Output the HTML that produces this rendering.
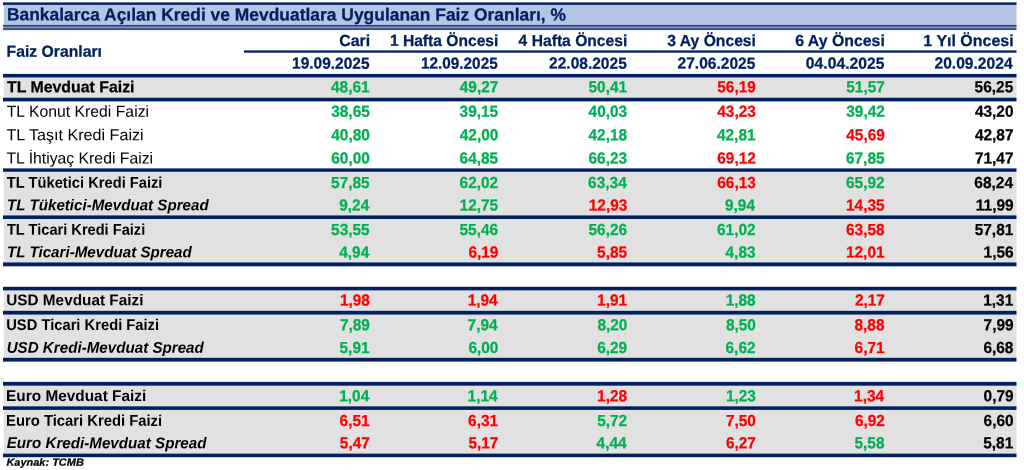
<!DOCTYPE html>
<html lang="tr"><head><meta charset="utf-8"><title>Bankalarca Açılan Kredi ve Mevduatlara Uygulanan Faiz Oranları</title>
<style>
html,body{margin:0;padding:0;background:#fff;}
body{width:1024px;height:470px;position:relative;overflow:hidden;text-rendering:geometricPrecision;font-family:"Liberation Sans",sans-serif;}
svg{position:absolute;left:0;top:0;}
.t{position:absolute;white-space:nowrap;line-height:20px;height:20px;font-size:16px;}
.l{transform-origin:0 50%;}
.r{transform-origin:100% 50%;text-align:right;}
.b{font-weight:bold;}
.k{-webkit-text-stroke:0.25px;}
.i{font-style:italic;font-weight:bold;}

</style></head><body>
<svg width="1024" height="470" viewBox="0 0 1024 470">
<rect x="3.8" y="4.90" width="1012.7" height="20.00" fill="#b4c6e7"/>
<rect x="3.8" y="26.75" width="1012.7" height="1.20" fill="#8296c6"/>
<rect x="3.8" y="77.50" width="1012.7" height="20.20" fill="#e1e1e1"/>
<rect x="3.8" y="171.80" width="1012.7" height="43.60" fill="#e1e1e1"/>
<rect x="3.8" y="219.00" width="1012.7" height="43.40" fill="#e1e1e1"/>
<rect x="3.8" y="290.40" width="1012.7" height="20.40" fill="#e1e1e1"/>
<rect x="3.8" y="314.60" width="1012.7" height="43.20" fill="#e1e1e1"/>
<rect x="3.8" y="385.70" width="1012.7" height="20.60" fill="#e1e1e1"/>
<rect x="3.8" y="409.90" width="1012.7" height="43.70" fill="#e1e1e1"/>
<rect x="3.0" y="2.40" width="1013.5" height="2.50" fill="#002060"/>
<rect x="3.0" y="24.90" width="1013.5" height="1.85" fill="#2a4281"/>
<rect x="3.0" y="27.95" width="1013.5" height="2.15" fill="#3f568d"/>
<rect x="243.9" y="50.40" width="772.6" height="2.30" fill="#002060"/>
<rect x="3.0" y="73.90" width="1013.5" height="3.60" fill="#002060"/>
<rect x="3.0" y="97.70" width="1013.5" height="3.70" fill="#002060"/>
<rect x="3.0" y="168.40" width="1013.5" height="3.40" fill="#002060"/>
<rect x="3.0" y="215.40" width="1013.5" height="3.60" fill="#002060"/>
<rect x="3.0" y="262.40" width="1013.5" height="3.90" fill="#002060"/>
<rect x="3.0" y="286.80" width="1013.5" height="3.60" fill="#002060"/>
<rect x="3.0" y="310.80" width="1013.5" height="3.80" fill="#002060"/>
<rect x="3.0" y="357.80" width="1013.5" height="3.80" fill="#002060"/>
<rect x="3.0" y="381.90" width="1013.5" height="3.80" fill="#002060"/>
<rect x="3.0" y="406.30" width="1013.5" height="3.60" fill="#002060"/>
<rect x="3.0" y="453.60" width="1013.5" height="3.60" fill="#002060"/>
</svg>
<div class="t l b k" style="top:4px;left:6px;transform:matrix(0.9956,0.0005,0,1,0.92,0.35);font-size:17.5px;color:#002060;">Bankalarca Açılan Kredi ve Mevduatlara Uygulanan Faiz Oranları, %</div>
<div class="t l b k" style="top:42px;left:6px;transform:matrix(0.9845,0.0005,0,1,0.58,0.65);color:#002060;">Faiz Oranları</div>
<div class="t r b k" style="top:31px;right:654px;transform:matrix(0.9913,0.0005,0,1,-0.03,0.93);color:#002060;">Cari</div>
<div class="t r b k" style="top:31px;right:525px;transform:matrix(0.9756,0.0005,0,1,-0.82,0.93);color:#002060;">1 Hafta Öncesi</div>
<div class="t r b k" style="top:31px;right:396px;transform:matrix(0.9780,0.0005,0,1,-0.83,0.93);color:#002060;">4 Hafta Öncesi</div>
<div class="t r b k" style="top:31px;right:268px;transform:matrix(0.9802,0.0005,0,1,-0.48,0.93);color:#002060;">3 Ay Öncesi</div>
<div class="t r b k" style="top:31px;right:139px;transform:matrix(0.9913,0.0005,0,1,-0.59,0.93);color:#002060;">6 Ay Öncesi</div>
<div class="t r b k" style="top:31px;right:10px;transform:matrix(0.9977,0.0005,0,1,-0.84,0.93);color:#002060;">1 Yıl Öncesi</div>
<div class="t r b k" style="top:54px;right:654px;transform:matrix(0.9680,0.0005,0,1,-0.50,0.65);color:#002060;">19.09.2025</div>
<div class="t r b k" style="top:54px;right:526px;transform:matrix(0.9583,0.0005,0,1,-0.38,0.65);color:#002060;">12.09.2025</div>
<div class="t r b k" style="top:54px;right:397px;transform:matrix(0.9701,0.0005,0,1,-0.31,0.65);color:#002060;">22.08.2025</div>
<div class="t r b k" style="top:54px;right:268px;transform:matrix(0.9713,0.0005,0,1,-0.73,0.65);color:#002060;">27.06.2025</div>
<div class="t r b k" style="top:54px;right:139px;transform:matrix(0.9807,0.0005,0,1,-0.68,0.65);color:#002060;">04.04.2025</div>
<div class="t r b k" style="top:54px;right:11px;transform:matrix(0.9757,0.0005,0,1,-0.50,0.65);color:#002060;">20.09.2024</div>
<div class="t l b k" style="top:78px;left:6px;transform:matrix(0.9921,0.0005,0,1,0.94,0.25);">TL Mevduat Faizi</div>
<div class="t r b k" style="top:78px;right:654px;transform:matrix(0.9650,0.0005,0,1,-0.42,0.25);color:#00b050;">48,61</div>
<div class="t r b k" style="top:78px;right:525px;transform:matrix(0.9650,0.0005,0,1,-0.70,0.25);color:#00b050;">49,27</div>
<div class="t r b k" style="top:78px;right:396px;transform:matrix(0.9650,0.0005,0,1,-0.88,0.25);color:#00b050;">50,41</div>
<div class="t r b k" style="top:78px;right:268px;transform:matrix(0.9650,0.0005,0,1,-0.20,0.25);color:#ff0000;">56,19</div>
<div class="t r b k" style="top:78px;right:139px;transform:matrix(0.9650,0.0005,0,1,-0.20,0.25);color:#00b050;">51,57</div>
<div class="t r b k" style="top:78px;right:10px;transform:matrix(0.9650,0.0005,0,1,-0.81,0.25);">56,25</div>
<div class="t l" style="top:102px;left:6px;transform:matrix(0.9862,0.0005,0,1,0.67,0.75);">TL Konut Kredi Faizi</div>
<div class="t r b k" style="top:102px;right:654px;transform:matrix(0.9650,0.0005,0,1,-0.22,0.75);color:#00b050;">38,65</div>
<div class="t r b k" style="top:102px;right:525px;transform:matrix(0.9650,0.0005,0,1,-0.83,0.75);color:#00b050;">39,15</div>
<div class="t r b k" style="top:102px;right:396px;transform:matrix(0.9650,0.0005,0,1,-0.86,0.75);color:#00b050;">40,03</div>
<div class="t r b k" style="top:102px;right:268px;transform:matrix(0.9650,0.0005,0,1,-0.20,0.75);color:#ff0000;">43,23</div>
<div class="t r b k" style="top:102px;right:139px;transform:matrix(0.9650,0.0005,0,1,-0.20,0.75);color:#00b050;">39,42</div>
<div class="t r b k" style="top:102px;right:10px;transform:matrix(0.9650,0.0005,0,1,-0.50,0.75);">43,20</div>
<div class="t l" style="top:126px;left:6px;transform:matrix(1.0080,0.0005,0,1,0.48,0.25);">TL Taşıt Kredi Faizi</div>
<div class="t r b k" style="top:126px;right:654px;transform:matrix(0.9650,0.0005,0,1,-0.14,0.25);color:#00b050;">40,80</div>
<div class="t r b k" style="top:126px;right:525px;transform:matrix(0.9650,0.0005,0,1,-0.70,0.25);color:#00b050;">42,00</div>
<div class="t r b k" style="top:126px;right:396px;transform:matrix(0.9650,0.0005,0,1,-0.94,0.25);color:#00b050;">42,18</div>
<div class="t r b k" style="top:126px;right:268px;transform:matrix(0.9650,0.0005,0,1,-0.49,0.25);color:#00b050;">42,81</div>
<div class="t r b k" style="top:126px;right:139px;transform:matrix(0.9650,0.0005,0,1,-0.20,0.25);color:#ff0000;">45,69</div>
<div class="t r b k" style="top:126px;right:10px;transform:matrix(0.9650,0.0005,0,1,-0.50,0.25);">42,87</div>
<div class="t l" style="top:149px;left:6px;transform:matrix(0.9850,0.0005,0,1,0.49,0.55);">TL İhtiyaç Kredi Faizi</div>
<div class="t r b k" style="top:149px;right:654px;transform:matrix(0.9650,0.0005,0,1,-0.13,0.55);color:#00b050;">60,00</div>
<div class="t r b k" style="top:149px;right:525px;transform:matrix(0.9650,0.0005,0,1,-0.85,0.55);color:#00b050;">64,85</div>
<div class="t r b k" style="top:149px;right:396px;transform:matrix(0.9650,0.0005,0,1,-0.87,0.55);color:#00b050;">66,23</div>
<div class="t r b k" style="top:149px;right:268px;transform:matrix(0.9650,0.0005,0,1,-0.20,0.55);color:#ff0000;">69,12</div>
<div class="t r b k" style="top:149px;right:139px;transform:matrix(0.9650,0.0005,0,1,-0.46,0.55);color:#00b050;">67,85</div>
<div class="t r b k" style="top:149px;right:10px;transform:matrix(0.9650,0.0005,0,1,-0.50,0.55);">71,47</div>
<div class="t l b" style="top:173px;left:6px;transform:matrix(0.9478,0.0005,0,1,0.81,0.70);font-size:15.5px;">TL Tüketici Kredi Faizi</div>
<div class="t r b k" style="top:173px;right:654px;transform:matrix(0.9650,0.0005,0,1,-0.34,0.95);color:#00b050;">57,85</div>
<div class="t r b k" style="top:173px;right:525px;transform:matrix(0.9650,0.0005,0,1,-0.86,0.95);color:#00b050;">62,02</div>
<div class="t r b k" style="top:173px;right:397px;transform:matrix(0.9650,0.0005,0,1,-0.28,0.95);color:#00b050;">63,34</div>
<div class="t r b k" style="top:173px;right:268px;transform:matrix(0.9650,0.0005,0,1,-0.20,0.95);color:#ff0000;">66,13</div>
<div class="t r b k" style="top:173px;right:139px;transform:matrix(0.9650,0.0005,0,1,-0.39,0.95);color:#00b050;">65,92</div>
<div class="t r b k" style="top:173px;right:11px;transform:matrix(0.9650,0.0005,0,1,-0.04,0.95);">68,24</div>
<div class="t l i" style="top:196px;left:7px;transform:matrix(0.9765,0.0005,0,1,0.08,0.20);font-size:15.5px;">TL Tüketici-Mevduat Spread</div>
<div class="t r b k" style="top:196px;right:654px;transform:matrix(0.9650,0.0005,0,1,-0.86,0.45);color:#00b050;">9,24</div>
<div class="t r b k" style="top:196px;right:525px;transform:matrix(0.9650,0.0005,0,1,-0.85,0.45);color:#00b050;">12,75</div>
<div class="t r b k" style="top:196px;right:396px;transform:matrix(0.9650,0.0005,0,1,-0.70,0.45);color:#ff0000;">12,93</div>
<div class="t r b k" style="top:196px;right:269px;transform:matrix(0.9650,0.0005,0,1,-0.11,0.45);color:#00b050;">9,94</div>
<div class="t r b k" style="top:196px;right:139px;transform:matrix(0.9650,0.0005,0,1,-0.44,0.45);color:#ff0000;">14,35</div>
<div class="t r b k" style="top:196px;right:10px;transform:matrix(0.9650,0.0005,0,1,-0.50,0.45);">11,99</div>
<div class="t l b" style="top:220px;left:6px;transform:matrix(0.9424,0.0005,0,1,0.93,0.70);font-size:15.5px;">TL Ticari Kredi Faizi</div>
<div class="t r b k" style="top:220px;right:654px;transform:matrix(0.9650,0.0005,0,1,-0.34,0.95);color:#00b050;">53,55</div>
<div class="t r b k" style="top:220px;right:525px;transform:matrix(0.9650,0.0005,0,1,-0.88,0.95);color:#00b050;">55,46</div>
<div class="t r b k" style="top:220px;right:396px;transform:matrix(0.9650,0.0005,0,1,-0.88,0.95);color:#00b050;">56,26</div>
<div class="t r b k" style="top:220px;right:268px;transform:matrix(0.9650,0.0005,0,1,-0.39,0.95);color:#00b050;">61,02</div>
<div class="t r b k" style="top:220px;right:139px;transform:matrix(0.9650,0.0005,0,1,-0.41,0.95);color:#ff0000;">63,58</div>
<div class="t r b k" style="top:220px;right:10px;transform:matrix(0.9650,0.0005,0,1,-0.71,0.95);">57,81</div>
<div class="t l i" style="top:243px;left:7px;transform:matrix(0.9782,0.0005,0,1,0.01,0.20);font-size:15.5px;">TL Ticari-Mevduat Spread</div>
<div class="t r b k" style="top:243px;right:654px;transform:matrix(0.9650,0.0005,0,1,-0.86,0.45);color:#00b050;">4,94</div>
<div class="t r b k" style="top:243px;right:525px;transform:matrix(0.9650,0.0005,0,1,-0.70,0.45);color:#ff0000;">6,19</div>
<div class="t r b k" style="top:243px;right:396px;transform:matrix(0.9650,0.0005,0,1,-0.98,0.45);color:#ff0000;">5,85</div>
<div class="t r b k" style="top:243px;right:268px;transform:matrix(0.9650,0.0005,0,1,-0.56,0.45);color:#00b050;">4,83</div>
<div class="t r b k" style="top:243px;right:139px;transform:matrix(0.9650,0.0005,0,1,-0.47,0.45);color:#ff0000;">12,01</div>
<div class="t r b k" style="top:243px;right:10px;transform:matrix(0.9650,0.0005,0,1,-0.50,0.45);">1,56</div>
<div class="t l b" style="top:291px;left:6px;transform:matrix(0.9897,0.0005,0,1,0.17,0.30);font-size:15.5px;">USD Mevduat Faizi</div>
<div class="t r b k" style="top:291px;right:654px;transform:matrix(0.9650,0.0005,0,1,-0.21,0.55);color:#ff0000;">1,98</div>
<div class="t r b k" style="top:291px;right:526px;transform:matrix(0.9650,0.0005,0,1,-0.45,0.55);color:#ff0000;">1,94</div>
<div class="t r b k" style="top:291px;right:397px;transform:matrix(0.9650,0.0005,0,1,-0.05,0.55);color:#ff0000;">1,91</div>
<div class="t r b k" style="top:291px;right:268px;transform:matrix(0.9650,0.0005,0,1,-0.44,0.55);color:#00b050;">1,88</div>
<div class="t r b k" style="top:291px;right:139px;transform:matrix(0.9650,0.0005,0,1,-0.20,0.55);color:#ff0000;">2,17</div>
<div class="t r b k" style="top:291px;right:10px;transform:matrix(0.9650,0.0005,0,1,-0.86,0.55);">1,31</div>
<div class="t l b" style="top:315px;left:6px;transform:matrix(0.9506,0.0005,0,1,0.22,0.90);font-size:15.5px;">USD Ticari Kredi Faizi</div>
<div class="t r b k" style="top:316px;right:654px;transform:matrix(0.9650,0.0005,0,1,-0.18,0.15);color:#00b050;">7,89</div>
<div class="t r b k" style="top:316px;right:526px;transform:matrix(0.9650,0.0005,0,1,-0.50,0.15);color:#00b050;">7,94</div>
<div class="t r b k" style="top:316px;right:396px;transform:matrix(0.9650,0.0005,0,1,-0.70,0.15);color:#00b050;">8,20</div>
<div class="t r b k" style="top:316px;right:268px;transform:matrix(0.9650,0.0005,0,1,-0.20,0.15);color:#00b050;">8,50</div>
<div class="t r b k" style="top:316px;right:139px;transform:matrix(0.9650,0.0005,0,1,-0.61,0.15);color:#ff0000;">8,88</div>
<div class="t r b k" style="top:316px;right:10px;transform:matrix(0.9650,0.0005,0,1,-0.50,0.15);">7,99</div>
<div class="t l i" style="top:338px;left:6px;transform:matrix(0.9784,0.0005,0,1,0.63,0.70);font-size:15.5px;">USD Kredi-Mevduat Spread</div>
<div class="t r b k" style="top:338px;right:654px;transform:matrix(0.9650,0.0005,0,1,-0.56,0.95);color:#00b050;">5,91</div>
<div class="t r b k" style="top:338px;right:525px;transform:matrix(0.9650,0.0005,0,1,-0.70,0.95);color:#00b050;">6,00</div>
<div class="t r b k" style="top:338px;right:396px;transform:matrix(0.9650,0.0005,0,1,-0.95,0.95);color:#00b050;">6,29</div>
<div class="t r b k" style="top:338px;right:268px;transform:matrix(0.9650,0.0005,0,1,-0.57,0.95);color:#00b050;">6,62</div>
<div class="t r b k" style="top:338px;right:139px;transform:matrix(0.9650,0.0005,0,1,-0.47,0.95);color:#ff0000;">6,71</div>
<div class="t r b k" style="top:338px;right:10px;transform:matrix(0.9650,0.0005,0,1,-0.71,0.95);">6,68</div>
<div class="t l b" style="top:387px;left:6px;transform:matrix(0.9922,0.0005,0,1,0.08,0.00);font-size:15.5px;">Euro Mevduat Faizi</div>
<div class="t r b k" style="top:387px;right:654px;transform:matrix(0.9650,0.0005,0,1,-0.86,0.25);color:#00b050;">1,04</div>
<div class="t r b k" style="top:387px;right:526px;transform:matrix(0.9650,0.0005,0,1,-0.50,0.25);color:#00b050;">1,14</div>
<div class="t r b k" style="top:387px;right:397px;transform:matrix(0.9650,0.0005,0,1,-0.01,0.25);color:#ff0000;">1,28</div>
<div class="t r b k" style="top:387px;right:268px;transform:matrix(0.9650,0.0005,0,1,-0.20,0.25);color:#00b050;">1,23</div>
<div class="t r b k" style="top:387px;right:140px;transform:matrix(0.9650,0.0005,0,1,-0.05,0.25);color:#ff0000;">1,34</div>
<div class="t r b k" style="top:387px;right:10px;transform:matrix(0.9650,0.0005,0,1,-0.50,0.25);">0,79</div>
<div class="t l b" style="top:411px;left:6px;transform:matrix(0.9548,0.0005,0,1,0.07,0.80);font-size:15.5px;">Euro Ticari Kredi Faizi</div>
<div class="t r b k" style="top:412px;right:654px;transform:matrix(0.9650,0.0005,0,1,-0.49,0.05);color:#ff0000;">6,51</div>
<div class="t r b k" style="top:412px;right:526px;transform:matrix(0.9650,0.0005,0,1,-0.05,0.05);color:#ff0000;">6,31</div>
<div class="t r b k" style="top:412px;right:396px;transform:matrix(0.9650,0.0005,0,1,-0.95,0.05);color:#00b050;">5,72</div>
<div class="t r b k" style="top:412px;right:268px;transform:matrix(0.9650,0.0005,0,1,-0.20,0.05);color:#ff0000;">7,50</div>
<div class="t r b k" style="top:412px;right:139px;transform:matrix(0.9650,0.0005,0,1,-0.20,0.05);color:#ff0000;">6,92</div>
<div class="t r b k" style="top:412px;right:10px;transform:matrix(0.9650,0.0005,0,1,-0.50,0.05);">6,60</div>
<div class="t l i" style="top:434px;left:6px;transform:matrix(0.9788,0.0005,0,1,0.66,0.10);font-size:15.5px;">Euro Kredi-Mevduat Spread</div>
<div class="t r b k" style="top:434px;right:654px;transform:matrix(0.9650,0.0005,0,1,-0.24,0.35);color:#ff0000;">5,47</div>
<div class="t r b k" style="top:434px;right:525px;transform:matrix(0.9650,0.0005,0,1,-0.70,0.35);color:#ff0000;">5,17</div>
<div class="t r b k" style="top:434px;right:397px;transform:matrix(0.9650,0.0005,0,1,-0.50,0.35);color:#00b050;">4,44</div>
<div class="t r b k" style="top:434px;right:268px;transform:matrix(0.9650,0.0005,0,1,-0.20,0.35);color:#ff0000;">6,27</div>
<div class="t r b k" style="top:434px;right:139px;transform:matrix(0.9650,0.0005,0,1,-0.65,0.35);color:#00b050;">5,58</div>
<div class="t r b k" style="top:434px;right:10px;transform:matrix(0.9650,0.0005,0,1,-0.86,0.35);">5,81</div>
<div class="t l i k" style="top:452px;left:6px;transform:matrix(1.0443,0.0005,0,1,0.42,0.80);font-size:10.5px;">Kaynak: TCMB</div>
</body></html>
